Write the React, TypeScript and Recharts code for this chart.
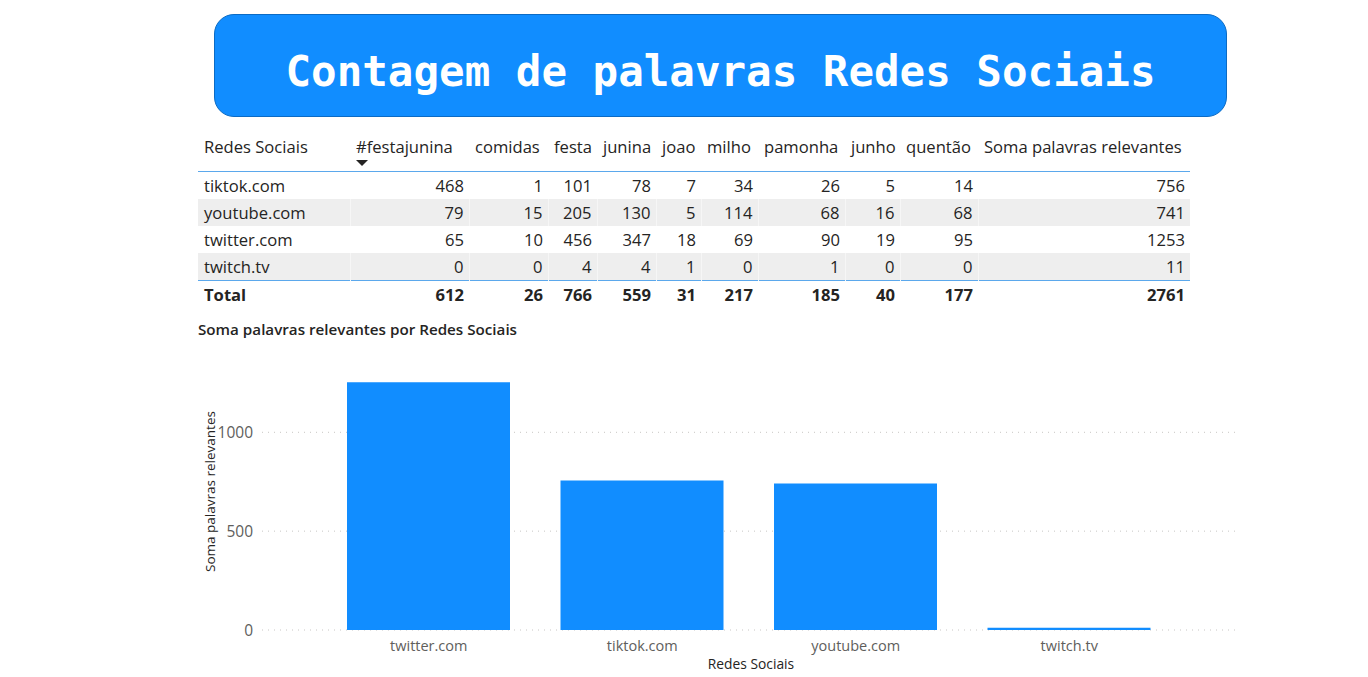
import React from "react";
import { BarChart, Bar, XAxis, YAxis, CartesianGrid, Label } from "recharts";

const networks = ["tiktok.com", "youtube.com", "twitter.com", "twitch.tv"];
const keywords = ["#festajunina", "comidas", "festa", "junina", "joao", "milho", "pamonha", "junho", "quentão"];
const festajunina = [468, 79, 65, 0];
const comidas = [1, 15, 10, 0];
const festa = [101, 205, 456, 4];
const junina = [78, 130, 347, 4];
const joao = [7, 5, 18, 1];
const milho = [34, 114, 69, 0];
const pamonha = [26, 68, 90, 1];
const junho = [5, 16, 19, 0];
const quentao = [14, 68, 95, 0];
const somaRelevantes = [756, 741, 1253, 11];
const yTicks = [0, 500, 1000];

const columns = [festajunina, comidas, festa, junina, joao, milho, pamonha, junho, quentao, somaRelevantes];
const colWidths = [152, 119, 79, 49, 59, 45, 57, 87, 55, 78, 212];

const chartData = networks
  .map((name, i) => ({ name, soma: somaRelevantes[i] }))
  .sort((a, b) => b.soma - a.soma);

const BLUE = "#118DFF";
const TEXT = "#252423";
const tableFont = "'Open Sans', 'Noto Sans', sans-serif";
const chartFont = "'Open Sans', 'Noto Sans', sans-serif";

const sum = (arr: number[]) => arr.reduce((a, b) => a + b, 0);

function DataTable() {
  const cell: React.CSSProperties = {
    padding: "0 5px 0 6px",
    height: 27,
    lineHeight: "27px",
    whiteSpace: "nowrap",
    overflow: "visible",
  };
  return (
    <table
      style={{
        position: "absolute",
        left: 198,
        top: 135,
        width: 992,
        borderCollapse: "collapse",
        tableLayout: "fixed",
        fontFamily: tableFont,
        fontSize: 16.6,
        color: TEXT,
      }}
    >
      <colgroup>
        {colWidths.map((w, i) => (
          <col key={i} style={{ width: w }} />
        ))}
      </colgroup>
      <thead>
        <tr style={{ borderBottom: "1.5px solid #5BA8EC" }}>
          {["Redes Sociais", ...keywords, "Soma palavras relevantes"].map((h, i) => (
            <th
              key={h}
              style={{
                ...cell,
                height: 35,
                lineHeight: "22px",
                verticalAlign: "top",
                paddingTop: 1,
                textAlign: "left",
                fontWeight: 400,
                position: "relative",
              }}
            >
              {h}
              {i === 1 && (
                <span
                  style={{
                    position: "absolute",
                    left: 6,
                    top: 25,
                    width: 0,
                    height: 0,
                    borderLeft: "6px solid transparent",
                    borderRight: "6px solid transparent",
                    borderTop: "6px solid #252423",
                  }}
                />
              )}
            </th>
          ))}
        </tr>
      </thead>
      <tbody>
        {networks.map((n, r) => (
          <tr
            key={n}
            style={{
              background: r % 2 === 1 ? "#EEEEEE" : "#FFFFFF",
              borderBottom: r === networks.length - 1 ? "1.5px solid #5BA8EC" : "none",
            }}
          >
            <td style={{ ...cell, textAlign: "left" }}>{n}</td>
            {columns.map((col, c) => (
              <td key={c} style={{ ...cell, textAlign: "right", borderLeft: r % 2 === 1 ? "1px solid #F6F6F6" : "none" }}>
                {col[r]}
              </td>
            ))}
          </tr>
        ))}
        <tr style={{ fontWeight: 700 }}>
          <td style={{ ...cell, textAlign: "left" }}>Total</td>
          {columns.map((col, c) => (
            <td key={c} style={{ ...cell, textAlign: "right" }}>
              {sum(col)}
            </td>
          ))}
        </tr>
      </tbody>
    </table>
  );
}

export default function App() {
  return (
    <div style={{ position: "absolute", left: 0, top: 0, width: 1368, height: 677, background: "#fff", overflow: "hidden" }}>
      <div
        style={{
          position: "absolute",
          left: 214,
          top: 14,
          width: 1013,
          height: 103,
          background: BLUE,
          border: "1px solid #0C6BC4",
          borderRadius: 20,
          display: "flex",
          alignItems: "center",
          justifyContent: "center",
          color: "#fff",
          fontFamily: "'DejaVu Sans Mono', monospace",
          fontWeight: 700,
          fontSize: 42.5,
          paddingTop: 12,
          boxSizing: "border-box",
        }}
      >
        Contagem de palavras Redes Sociais
      </div>

      <DataTable />

      <div
        style={{
          position: "absolute",
          left: 198,
          top: 319,
          fontFamily: chartFont,
          fontSize: 15.2,
          fontWeight: 600,
          color: TEXT,
        }}
      >
        Soma palavras relevantes por Redes Sociais
      </div>

      <div style={{ position: "absolute", left: 0, top: 340 }}>
        <BarChart
          width={1260}
          height={337}
          data={chartData}
          margin={{ top: 33, right: 20, left: 200, bottom: 17 }}
        >
          <CartesianGrid vertical={false} stroke="#C8C6C4" strokeDasharray="1 5" syncWithTicks />
          <XAxis
            dataKey="name"
            axisLine={false}
            tickLine={false}
            height={30}
            tickMargin={5}
            padding={{ left: 60, right: 64 }}
            fontSize={14.5}
            fontFamily={chartFont}
            tick={{ fontSize: 14.5, fill: "#605E5C", fontFamily: chartFont }}
          >
            <Label
              content={({ viewBox }: any) => (
                <text
                  x={viewBox.x + viewBox.width / 2}
                  y={viewBox.y + viewBox.height + 9}
                  textAnchor="middle"
                  fontSize={13.8}
                  fill={TEXT}
                  fontFamily={chartFont}
                >
                  Redes Sociais
                </text>
              )}
            />
          </XAxis>
          <YAxis
            width={62}
            domain={[0, 1300]}
            ticks={yTicks}
            axisLine={false}
            tickLine={false}
            tickSize={0}
            tickMargin={9}
            fontSize={15.5}
            fontFamily={chartFont}
            tick={{ fontSize: 15.5, fill: "#605E5C", fontFamily: chartFont }}
          >
            <Label
              content={({ viewBox }: any) => (
                <text
                  x={viewBox.x + 10}
                  y={viewBox.y + viewBox.height / 2 - 10}
                  textAnchor="middle"
                  dominantBaseline="central"
                  transform={`rotate(-90 ${viewBox.x + 10} ${viewBox.y + viewBox.height / 2 - 10})`}
                  fontSize={13.5}
                  fill={TEXT}
                  fontFamily={chartFont}
                >
                  Soma palavras relevantes
                </text>
              )}
            />
          </YAxis>
          <Bar dataKey="soma" fill={BLUE} barSize={163} isAnimationActive={false} />
        </BarChart>
      </div>
    </div>
  );
}
